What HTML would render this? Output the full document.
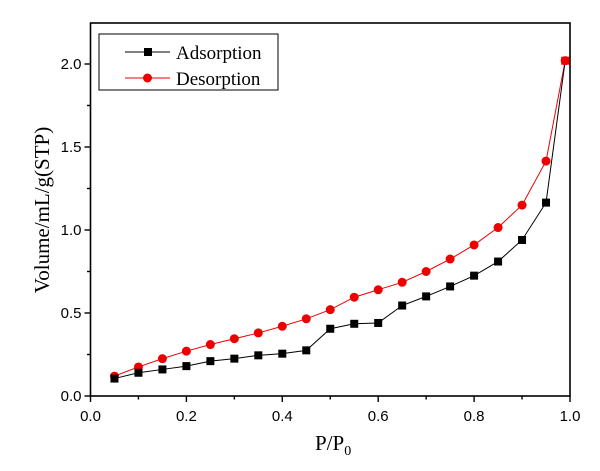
<!DOCTYPE html>
<html><head><meta charset="utf-8"><style>
body{margin:0;background:#fff;}
svg text{fill:#000;}
</style></head><body>
<svg id="chart" width="600" height="466" xmlns="http://www.w3.org/2000/svg">
<rect x="90.5" y="23" width="479.5" height="373" fill="none" stroke="#000" stroke-width="1.6"/>
<g id="axes"></g>
<g id="series"></g>
<g>
<rect x="99" y="34" width="179" height="56" fill="#fff" stroke="#000" stroke-width="1"/>
<line x1="125" y1="52" x2="170" y2="52" stroke="#000" stroke-width="1"/>
<rect x="144" y="48" width="8" height="8" fill="#000"/>
<text x="176" y="59" font-family="Liberation Serif, serif" font-size="19">Adsorption</text>
<line x1="125" y1="78" x2="170" y2="78" stroke="#e00" stroke-width="1"/>
<circle cx="147.5" cy="78" r="4.5" fill="#e00"/>
<text x="176" y="85" font-family="Liberation Serif, serif" font-size="19">Desorption</text>
</g>
<text x="315" y="450" font-family="Liberation Serif, serif" font-size="21">P/P<tspan font-size="14" dy="5">0</tspan></text>
<text transform="translate(49,210) rotate(-90)" text-anchor="middle" font-family="Liberation Serif, serif" font-size="21">Volume/mL/g(STP)</text>
</svg>
<script>
const pressures=[0.05,0.1,0.15,0.2,0.25,0.3,0.35,0.4,0.45,0.5,0.55,0.6,0.65,0.7,0.75,0.8,0.85,0.9,0.95,0.99];
const adsorption=[0.105,0.14,0.16,0.18,0.21,0.225,0.245,0.255,0.275,0.405,0.435,0.44,0.545,0.60,0.66,0.725,0.81,0.94,1.165,2.02];
const desorption=[0.12,0.175,0.225,0.27,0.31,0.345,0.38,0.42,0.465,0.52,0.595,0.64,0.685,0.75,0.825,0.91,1.015,1.15,1.415,2.02];
const xTicks=[0.0,0.2,0.4,0.6,0.8,1.0];
const yTicks=[0.0,0.5,1.0,1.5,2.0];
const NS="http://www.w3.org/2000/svg";
const X0=90.5,X1=570,Y0=396,Yper=166;
function sx(v){return X0+v*(X1-X0);}
function sy(v){return Y0-v*Yper;}
function mk(tag,attrs,parent){const e=document.createElementNS(NS,tag);for(const k in attrs)e.setAttribute(k,attrs[k]);parent.appendChild(e);return e;}
const axes=document.getElementById('axes');
for(let i=0;i<=10;i++){const v=i/10;const major=i%2===0;
 const t=mk('line',{x1:sx(v),x2:sx(v),y1:Y0,y2:Y0+(major?6:3.5),stroke:'#000','stroke-width':1.4},axes);
 
 }
xTicks.forEach(v=>{const t=mk('text',{x:sx(v),y:Y0+25,'text-anchor':'middle','font-family':'Liberation Sans, sans-serif','font-size':15},axes);t.textContent=v.toFixed(1);
 
 });
for(let i=0;i<=8;i++){const v=i*0.25;const major=i%2===0;
 const t=mk('line',{x1:X0,x2:X0-(major?6:3.5),y1:sy(v),y2:sy(v),stroke:'#000','stroke-width':1.4},axes);
 
 }
yTicks.forEach(v=>{const t=mk('text',{x:X0-9,y:sy(v)+5,'text-anchor':'end','font-family':'Liberation Sans, sans-serif','font-size':15},axes);t.textContent=v.toFixed(1);
 
 });
const series=document.getElementById('series');
function drawLine(vals,color,name){
 const l=mk('polyline',{points:pressures.map((p,i)=>sx(p)+','+sy(vals[i])).join(' '),fill:'none',stroke:color,'stroke-width':1},series);
 
 }
drawLine(desorption,'#e00','desorption');
drawLine(adsorption,'#000','adsorption');
pressures.forEach((p,i)=>{const c=mk('circle',{cx:sx(p),cy:sy(desorption[i]),r:4.5,fill:'#e00'},series);
 
 });
pressures.forEach((p,i)=>{const r=mk('rect',{x:sx(p)-4,y:sy(adsorption[i])-4,width:8,height:8,fill:i===pressures.length-1?'#e00':'#000'},series);
 
 });
</script>
</body></html>
